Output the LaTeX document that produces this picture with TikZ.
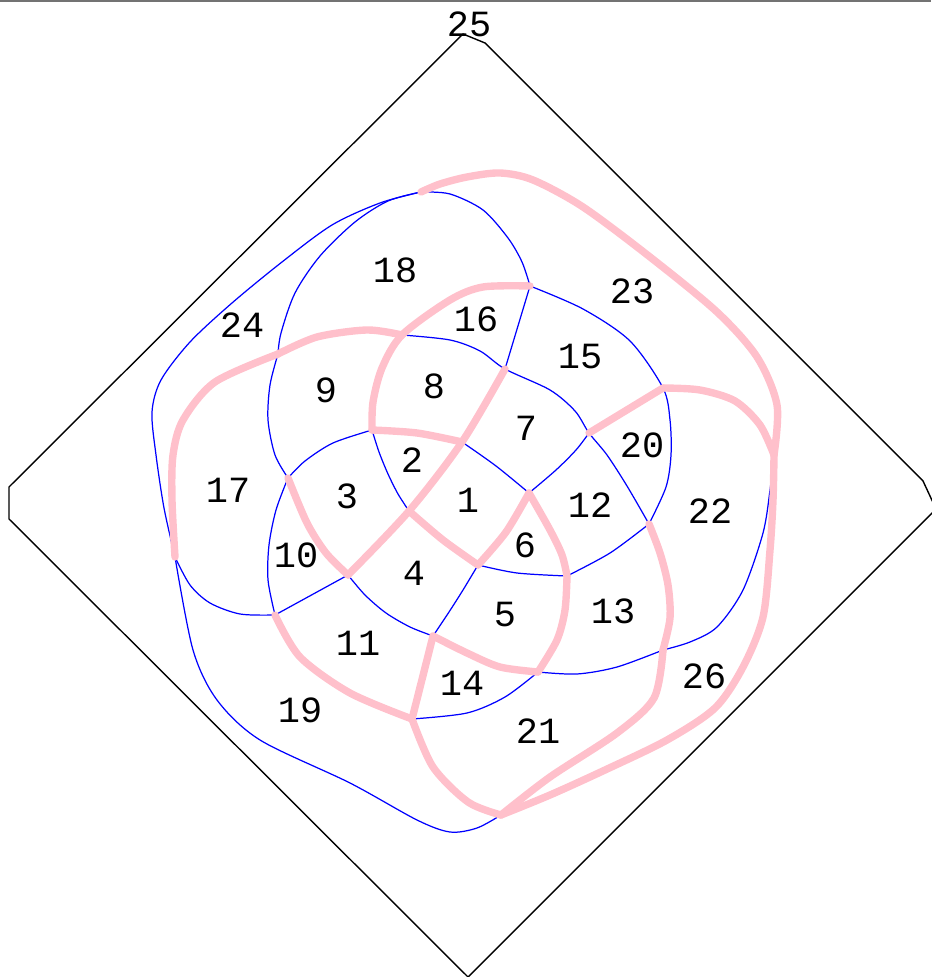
\documentclass[tikz,border=0pt]{standalone}
\usepackage{fontspec}
\newfontfamily\regionfont{Liberation Mono}
\definecolor{edgepink}{RGB}{255,192,203}

\begin{document}
\begin{tikzpicture}[x=0.01cm,y=-0.01cm,
    blueedge/.style={blue,line width=0.35pt},
    pinkedge/.style={edgepink,line width=2.1pt,line cap=round,line join=round},
    region/.style={font=\regionfont\fontsize{10.5}{12}\selectfont,inner sep=0pt}]
    \useasboundingbox (0,0) rectangle (931,977);
    \draw[black!55,line width=0.5pt] (0,1) -- (931,1);
    \draw[line width=0.4pt] (463,34) -- (485,43) -- (923,481) -- (936,509)
        -- (468,977) -- (9,519) -- (9,487) -- cycle;

    % junctions
    \coordinate (A) at (462,442);
    \coordinate (B) at (409,511);
    \coordinate (C) at (529,493);
    \coordinate (D) at (478,565);
    \coordinate (E) at (372,430);
    \coordinate (F) at (348,575);
    \coordinate (G) at (505,369);
    \coordinate (H) at (589,433);
    \coordinate (I) at (567,576);
    \coordinate (J) at (433,636);
    \coordinate (K) at (538,672);
    \coordinate (L) at (412,719);
    \coordinate (M) at (275,615);
    \coordinate (N) at (288,478);
    \coordinate (O) at (402,335);
    \coordinate (P) at (278,354);
    \coordinate (Q) at (530,286);
    \coordinate (R) at (421,192);
    \coordinate (S) at (663,388);
    \coordinate (T) at (649,524);
    \coordinate (U) at (663,650);
    \coordinate (V) at (501,815);
    \coordinate (W) at (175,557);
    \coordinate (X) at (774,455);

    % blue edges
    \draw[blueedge] plot[smooth] coordinates {(W) (164,508) (156,455) (152,412)
        (161,380) (190,342) (232,303) (282,262) (332,225) (380,203) (R)};
    \draw[blueedge] plot[smooth] coordinates {(R) (388,201) (355,222) (320,256)
        (295,293) (281,333) (P)};
    \draw[blueedge] plot[smooth] coordinates {(R) (450,194) (483,210) (508,238)
        (522,262) (Q)};
    \draw[blueedge] plot[smooth] coordinates {(P) (270,385) (268,420) (275,455) (N)};
    \draw[blueedge] plot[smooth] coordinates {(E) (333,443) (305,461) (N)};
    \draw[blueedge] plot[smooth] coordinates {(E) (379,452) (388,474) (398,494) (B)};
    \draw[blueedge] plot[smooth] coordinates {(N) (276,510) (269,545) (268,580) (M)};
    \draw[blueedge] plot[smooth] coordinates {(W) (190,585) (210,603) (240,614) (M)};
    \draw[blueedge] (F) -- (M);
    \draw[blueedge] plot[smooth] coordinates {(F) (365,595) (386,613) (410,627) (J)};
    \draw[blueedge] plot[smooth] coordinates {(D) (463,590) (449,612) (J)};
    \draw[blueedge] plot[smooth] coordinates {(D) (517,573) (I)};
    \draw[blueedge] plot[smooth] coordinates {(A) (496,466) (C)};
    \draw[blueedge] plot[smooth] coordinates {(H) (576,450) (556,470) (C)};
    \draw[blueedge] plot[smooth] coordinates {(O) (450,340) (480,351) (G)
        (550,390) (575,411) (H) (607,455) (627,486) (T)};
    \draw[blueedge] (Q) -- (G);
    \draw[blueedge] plot[smooth] coordinates {(Q) (583,309) (630,341) (S)
        (670,420) (671,455) (666,487) (T)};
    \draw[blueedge] plot[smooth] coordinates {(T) (610,553) (I)};
    \draw[blueedge] plot[smooth] coordinates {(U) (617,667) (577,674) (K)};
    \draw[blueedge] plot[smooth] coordinates {(X) (770,490) (763,533) (743,590)
        (717,627) (690,642) (U)};
    \draw[blueedge] plot[smooth] coordinates {(K) (505,697) (467,713) (L)};
    \draw[blueedge] plot[smooth] coordinates {(V) (477,828) (450,832) (417,820)
        (350,783) (260,740) (217,700) (193,650) (W)};

    % pink edges
    \draw[pinkedge] plot[smooth] coordinates {(R) (440,184) (467,177) (500,173)
        (533,180) (583,207) (650,257) (717,312) (757,357) (777,405) (X)};
    \draw[pinkedge] plot[smooth] coordinates {(S) (700,390) (735,401) (760,425) (X)};
    \draw[pinkedge] plot[smooth] coordinates {(X) (773,500) (770,550) (763,617)
        (743,667) (715,708) (667,740) (605,770) (550,795) (V)};
    \draw[pinkedge] plot[smooth] coordinates {(T) (660,553) (668,585) (670,618) (U)};
    \draw[pinkedge] plot[smooth] coordinates {(U) (654,698) (617,733) (550,777) (V)};
    \draw[pinkedge] plot[smooth] coordinates {(L) (433,767) (468,802) (V)};
    \draw[pinkedge] plot[smooth] coordinates {(W) (172,500) (173,455) (183,420)
        (215,382) (P)};
    \draw[pinkedge] plot[smooth] coordinates {(P) (317,337) (367,330) (O)};
    \draw[pinkedge] plot[smooth] coordinates {(Q) (483,287) (450,300) (O)
        (382,368) (373,402) (E)};
    \draw[pinkedge] plot[smooth] coordinates {(E) (417,433) (A)};
    \draw[pinkedge] plot[smooth] coordinates {(G) (A) (B) (F)};
    \draw[pinkedge] plot[smooth] coordinates {(N) (307,523) (326,553) (F)};
    \draw[pinkedge] plot[smooth] coordinates {(B) (443,540) (D)};
    \draw[pinkedge] plot[smooth] coordinates {(D) (506,532) (C)};
    \draw[pinkedge] plot[smooth] coordinates {(C) (550,530) (562,555) (I)};
    \draw[pinkedge] plot[smooth] coordinates {(I) (565,610) (557,640) (K)};
    \draw[pinkedge] plot[smooth] coordinates {(J) (467,653) (500,667) (K)};
    \draw[pinkedge] (J) -- (L);
    \draw[pinkedge] plot[smooth] coordinates {(M) (300,657) (350,693) (L)};
    \draw[pinkedge] (H) -- (S);

    % region numbers
    \node[region] (r1) at (468,500) {1};
    \node[region] (r2) at (412,460) {2};
    \node[region] (r3) at (347,496) {3};
    \node[region] (r4) at (414,573) {4};
    \node[region] (r5) at (505,615) {5};
    \node[region] (r6) at (525,545) {6};
    \node[region] (r7) at (526,428) {7};
    \node[region] (r8) at (434,386) {8};
    \node[region] (r9) at (326,390) {9};
    \node[region] (r10) at (296,555) {10};
    \node[region] (r11) at (358,643) {11};
    \node[region] (r12) at (590,505) {12};
    \node[region] (r13) at (613,611) {13};
    \node[region] (r14) at (462,683) {14};
    \node[region] (r15) at (580,357) {15};
    \node[region] (r16) at (476,319) {16};
    \node[region] (r17) at (228,490) {17};
    \node[region] (r18) at (395,270) {18};
    \node[region] (r19) at (300,710) {19};
    \node[region] (r20) at (642,445) {20};
    \node[region] (r21) at (538,731) {21};
    \node[region] (r22) at (710,511) {22};
    \node[region] (r23) at (632,291) {23};
    \node[region] (r24) at (242,325) {24};
    \node[region] (r25) at (469,24) {25};
    \node[region] (r26) at (704,676) {26};
\end{tikzpicture}
\end{document}
